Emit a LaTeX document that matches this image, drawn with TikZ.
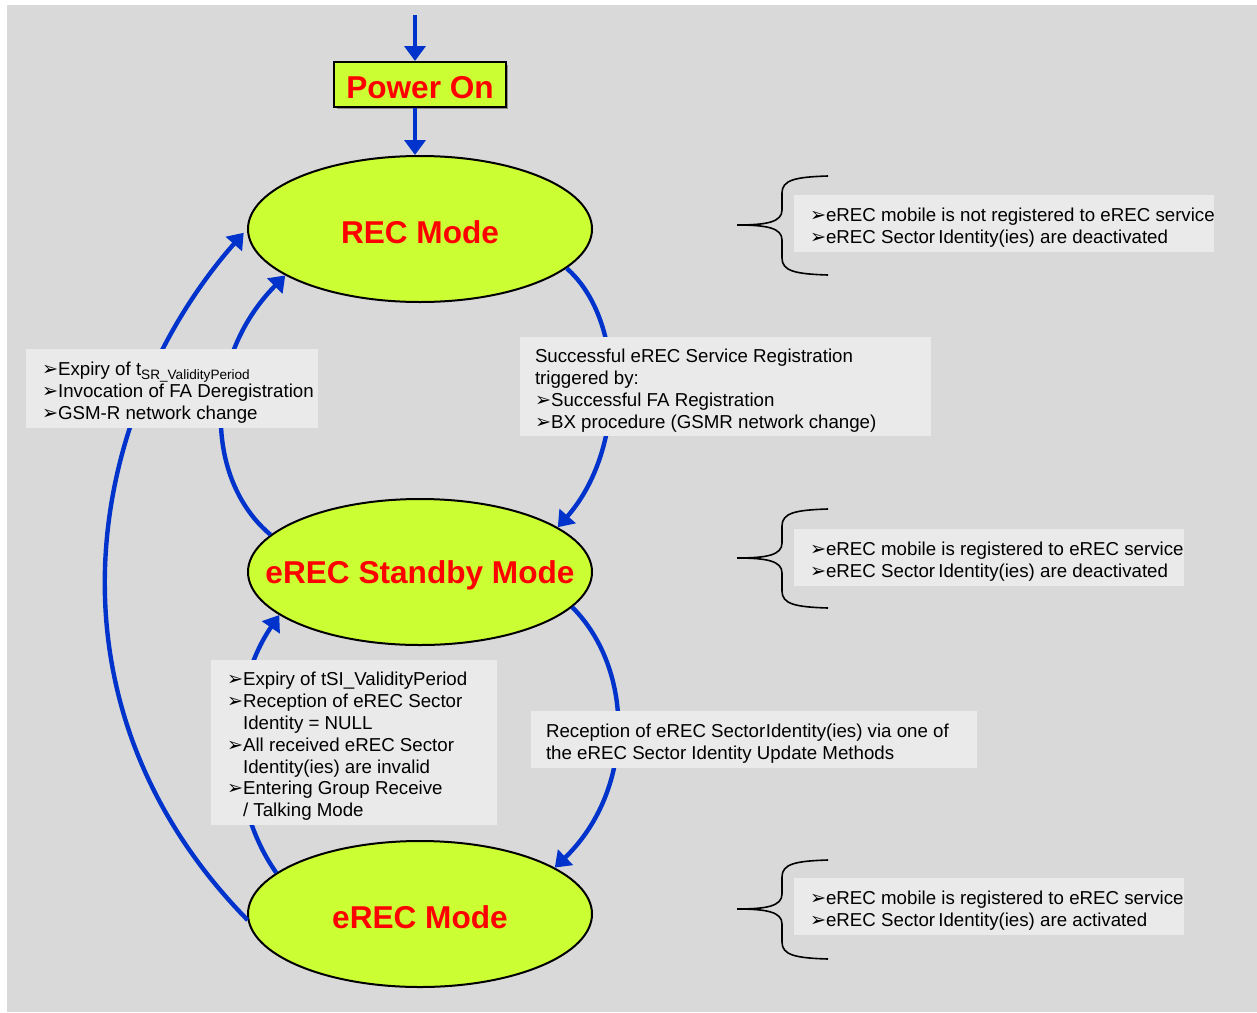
\documentclass[tikz,border=0pt]{standalone}
\usepackage{fontspec}
\setmainfont{Liberation Sans}
\newfontfamily\dejavu{DejaVu Sans}
\usetikzlibrary{shapes.geometric,arrows.meta}
\definecolor{bg}{HTML}{D9D9D9}
\definecolor{notefill}{HTML}{EAEAEA}
\definecolor{modefill}{HTML}{CCFF33}
\definecolor{flow}{HTML}{0033CC}
\newcommand\bul{{\dejavu\fontsize{9.6}{9.6}\selectfont ➢}}
\newcommand\cont{\hphantom{\bul}}
\newcommand\subtxt[1]{\raisebox{-0.4ex}{\fontsize{6.8}{7}\selectfont #1}}

\begin{document}
\begin{tikzpicture}[x=0.5pt,y=-0.5pt,
  mode/.style={ellipse, draw=black, line width=1pt, fill=modefill,
    minimum width=172pt, minimum height=73pt, inner sep=0pt},
  modetext/.style={inner sep=0pt, text=red, yshift=-1.5pt,
    font=\fontsize{15.8}{18}\selectfont\bfseries},
  notebox/.style={fill=notefill, inner sep=0pt},
  notetext/.style={align=left, inner sep=0pt, anchor=west,
    font=\fontsize{9.35}{10.9}\selectfont},
  flowarrow/.style={draw=flow, line width=2.2pt,
    -{Triangle[width=10.5pt,length=7.5pt]}},
  bracepic/.pic={
    \draw[line width=0.8pt] (91,-49) .. controls (58,-48) and (45,-45) .. (45,-32)
      -- (45,-15) .. controls (45,-3) and (30,0) .. (0,0)
      .. controls (30,0) and (45,3) .. (45,15)
      -- (45,33) .. controls (45,46) and (58,49) .. (91,50);}
]
% canvas
\useasboundingbox (0,0) rectangle (1257,1012);
\fill[bg] (7,5) rectangle (1257,1012);

% entry point and power-on box
\coordinate (entry) at (415,15);
\fill[black!45] (337,65) rectangle (508,109);
\node[draw=black, line width=1pt, fill=modefill, minimum width=86pt,
  minimum height=22.5pt, inner sep=0pt] (pwr) at (420,84.5) {};
\node[modetext] (pwrt) at (pwr) {Power On};

% the three modes
\node[mode] (rec) at (420,229) {};
\node[modetext] (rect) at (rec) {REC Mode};
\node[mode] (stb) at (420,572) {};
\node[modetext] (stbt) at (stb) {eREC Standby Mode};
\node[mode] (erec) at (420,914) {};
\node[modetext] (erect) at (erec) {eREC Mode};

\draw[flowarrow] (entry) -- (entry |- pwr.north);
\draw[flowarrow] (pwr.south -| entry) -- (entry |- rec.north);

% transitions
\draw[flowarrow] (rec.-15) .. controls (626,320) and (626,450) .. (stb.18);
\draw[flowarrow] (stb.-13) .. controls (635,670) and (635,790) .. (erec.19);
\draw[flowarrow] (stb.166) .. controls (205,480) and (202,360) .. (rec.199);
\draw[flowarrow] (erec.164) .. controls (225,800) and (228,690) .. (stb.197);
\draw[flowarrow, shorten >=2.5pt] (erec.182) .. controls (32,700) and (88,410) .. (rec.180);

% transition conditions
\node[notebox, minimum width=146pt, minimum height=39.5pt] (c1) at (172,388.5) {};
\node[notetext] (c1t) at ([xshift=8pt,yshift=-2pt]c1.west)
  {\bul Expiry of t\subtxt{SR\_ValidityPeriod}\\
   \bul Invocation of FA Deregistration\\
   \bul GSM-R network change};

\node[notebox, minimum width=205.5pt, minimum height=49.5pt] (c2) at (725.5,386.5) {};
\node[notetext] (c2t) at ([xshift=7.5pt,yshift=-2pt]c2.west)
  {Successful eREC Service Registration\\
   triggered by:\\
   \bul Successful FA Registration\\
   \bul BX procedure (GSMR network change)};

\node[notebox, minimum width=143pt, minimum height=82.5pt] (c3) at (354,742.5) {};
\node[notetext] (c3t) at ([xshift=8pt,yshift=-2pt]c3.west)
  {\bul Expiry of tSI\_ValidityPeriod\\
   \bul Reception of eREC Sector\\
   \cont Identity = NULL\\
   \bul All received eREC Sector\\
   \cont Identity(ies) are invalid\\
   \bul Entering Group Receive\\
   \cont / Talking Mode};

\node[notebox, minimum width=223pt, minimum height=28.5pt] (c4) at (754,739.5) {};
\node[notetext] (c4t) at ([xshift=7.5pt,yshift=-2pt]c4.west)
  {Reception of eREC Sector\kern0.3pt Identity(ies) via one of\\
   the eREC Sector Identity Update Methods};

% mode descriptions
\pic at (737,225) {bracepic};
\node[notebox, minimum width=210pt, minimum height=28.5pt] (d1) at (1004,223.5) {};
\node[notetext] (d1t) at ([xshift=8pt,yshift=-2pt]d1.west)
  {\bul eREC mobile is not registered to eREC service\\
   \bul eREC Sector\,Identity(ies) are deactivated};

\pic at (737,558) {bracepic};
\node[notebox, minimum width=195pt, minimum height=28.5pt] (d2) at (989,557.5) {};
\node[notetext] (d2t) at ([xshift=8pt,yshift=-2pt]d2.west)
  {\bul eREC mobile is registered to eREC service\\
   \bul eREC Sector\,Identity(ies) are deactivated};

\pic at (737,909) {bracepic};
\node[notebox, minimum width=195pt, minimum height=28.5pt] (d3) at (989,906.5) {};
\node[notetext] (d3t) at ([xshift=8pt,yshift=-2pt]d3.west)
  {\bul eREC mobile is registered to eREC service\\
   \bul eREC Sector\,Identity(ies) are activated};
\end{tikzpicture}
\end{document}
